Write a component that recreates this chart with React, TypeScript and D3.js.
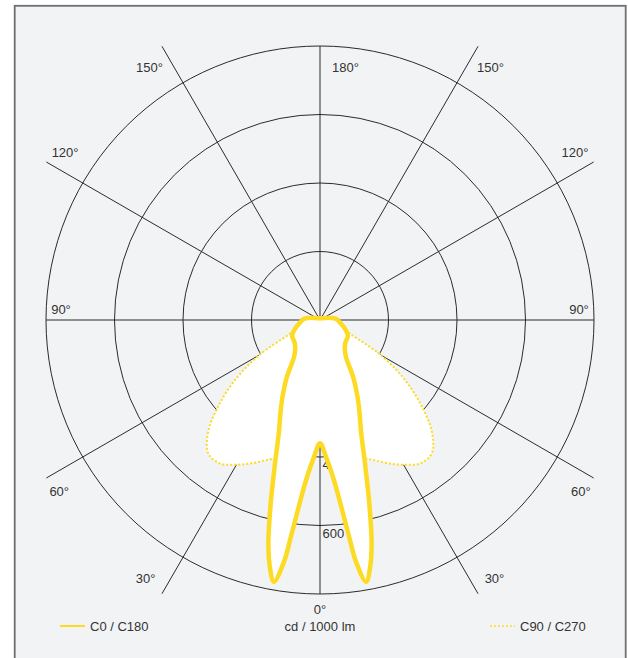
import React from 'react';
import * as d3 from 'd3';

// C0 / C180 plane, angle from nadir (deg) -> cd / 1000 lm
const c0Angles = [0, 2.5, 5, 7.5, 8.5, 10, 11.5, 13, 15, 17.5, 20, 25, 30, 35, 40, 45, 50, 55, 60, 65, 70, 75, 80, 85, 90, 95, 100, 110, 120, 135, 150, 180];
const c0Values = [360, 400, 470, 625, 715, 776, 735, 670, 557, 435, 352, 265, 195, 132, 113, 103, 98, 96, 94, 87, 78, 70, 62, 56, 52, 45, 35, 18, 10, 7, 6, 5];

// C90 / C270 plane
const c90Angles = [0, 5, 10, 15, 20, 25, 30, 35, 40, 45, 50, 55, 60, 65, 70, 75, 80, 90, 100, 110, 120, 150, 180];
const c90Values = [360, 375, 395, 415, 433, 461, 488, 511, 508, 462, 385, 300, 205, 100, 65, 50, 40, 25, 12, 7, 5, 5, 5];

const rings = [200, 400, 600, 800];
const ringLabels = [200, 400, 600];
const spokes = [0, 30, 60, 90, 120, 150, 180];

const W = 628;
const H = 658;
const cx = 320;
const cy = 320;
const R = 274;
const yellow = '#fcdb22';
const ink = '#2b2b2b';

const r = d3.scaleLinear().domain([0, 800]).range([0, R]);
const rad = (deg: number) => (deg * Math.PI) / 180;

// point at angle from nadir (positive = right side)
const polar = (deg: number, radius: number): [number, number] => [
  cx + radius * Math.sin(rad(deg)),
  cy + radius * Math.cos(rad(deg)),
];

// full loop: right half 0..180, then left half back 180..0
const loop = (angles: number[], values: number[]) => {
  const right = angles.map((a, i) => ({ a, v: values[i] }));
  const left = angles
    .slice(1, -1)
    .reverse()
    .map((a) => ({ a: -a, v: values[angles.indexOf(a)] }));
  return [...right, ...left];
};

const radial = d3
  .lineRadial<{ a: number; v: number }>()
  .angle((d) => Math.PI - rad(d.a))
  .radius((d) => r(d.v))
  .curve(d3.curveCatmullRomClosed.alpha(0.5));

const App: React.FC = () => {
  const c0Path = radial(loop(c0Angles, c0Values)) || '';
  const c90Path = radial(loop(c90Angles, c90Values)) || '';

  const spokeLines: { deg: number; len: number }[] = [];
  spokes.forEach((s) => {
    const len = s % 90 === 0 ? R : 316;
    spokeLines.push({ deg: s, len });
    if (s !== 0 && s !== 180) spokeLines.push({ deg: -s, len });
  });

  // oblique labels sit near the spoke end, nudged toward the 45° diagonal
  const angleLabels: { text: string; x: number; y: number; anchor: string }[] = [];
  [30, 60, 120, 150].forEach((s) => {
    const fromVert = s < 90 ? s : 180 - s;
    const nudge = fromVert < 45 ? 4 : -3.3;
    const deg = s < 90 ? s + nudge : s - nudge;
    const dist = s < 90 ? 312 : 305;
    [1, -1].forEach((side) => {
      const [x, y] = polar(side * deg, dist);
      angleLabels.push({ text: `${s}°`, x, y, anchor: 'middle' });
    });
  });
  [1, -1].forEach((side) => {
    angleLabels.push({ text: '90°', x: cx + side * 259, y: cy - 11, anchor: 'middle' });
  });
  angleLabels.push({ text: '180°', x: cx + 12, y: cy - 253, anchor: 'start' });
  angleLabels.push({ text: '0°', x: cx, y: cy + 289, anchor: 'middle' });

  return (
    <svg
      width={W}
      height={H}
      style={{ position: 'absolute', left: 0, top: 0 }}
      fontFamily="'Liberation Sans', Arial, sans-serif"
      fontSize={13}
    >
      <rect width={W} height={H} fill="#ffffff" />
      <rect x={14.7} y={5.8} width={611} height={720} fill="#f2f3f5" stroke="#6f6f6f" strokeWidth={1.8} />

      {/* grid */}
      <g stroke={ink} strokeWidth={1} fill="none">
        {rings.map((v) => (
          <circle key={v} cx={cx} cy={cy} r={r(v)} />
        ))}
        {spokeLines.map(({ deg, len }) => {
          const [x2, y2] = polar(deg, len);
          return <line key={deg} x1={cx} y1={cy} x2={x2} y2={y2} />;
        })}
      </g>

      {/* labels */}
      <g fill="#333">
        {angleLabels.map((l, i) => (
          <text key={i} x={l.x} y={l.y} textAnchor={l.anchor} dominantBaseline="central">
            {l.text}
          </text>
        ))}
        {ringLabels.map((v) => (
          <text key={v} x={cx + 2.5} y={cy + r(v) + 12}>
            {v}
          </text>
        ))}
      </g>

      {/* intensity curves */}
      <g transform={`translate(${cx},${cy})`} strokeLinejoin="round">
        <path d={c90Path} fill="#ffffff" stroke={yellow} strokeWidth={2} strokeDasharray="2 2" />
        <path d={c0Path} fill="#ffffff" stroke={yellow} strokeWidth={4.5} />
      </g>

      {/* legend */}
      <g fill="#333">
        <line x1={60} x2={85} y1={626} y2={626} stroke={yellow} strokeWidth={2} />
        <text x={90} y={631}>C0 / C180</text>
        <line x1={490} x2={515} y1={626} y2={626} stroke={yellow} strokeWidth={1.5} strokeDasharray="2 2" />
        <text x={520} y={631}>C90 / C270</text>
        <text x={cx} y={631} textAnchor="middle">cd / 1000 lm</text>
      </g>
    </svg>
  );
};

export default App;
